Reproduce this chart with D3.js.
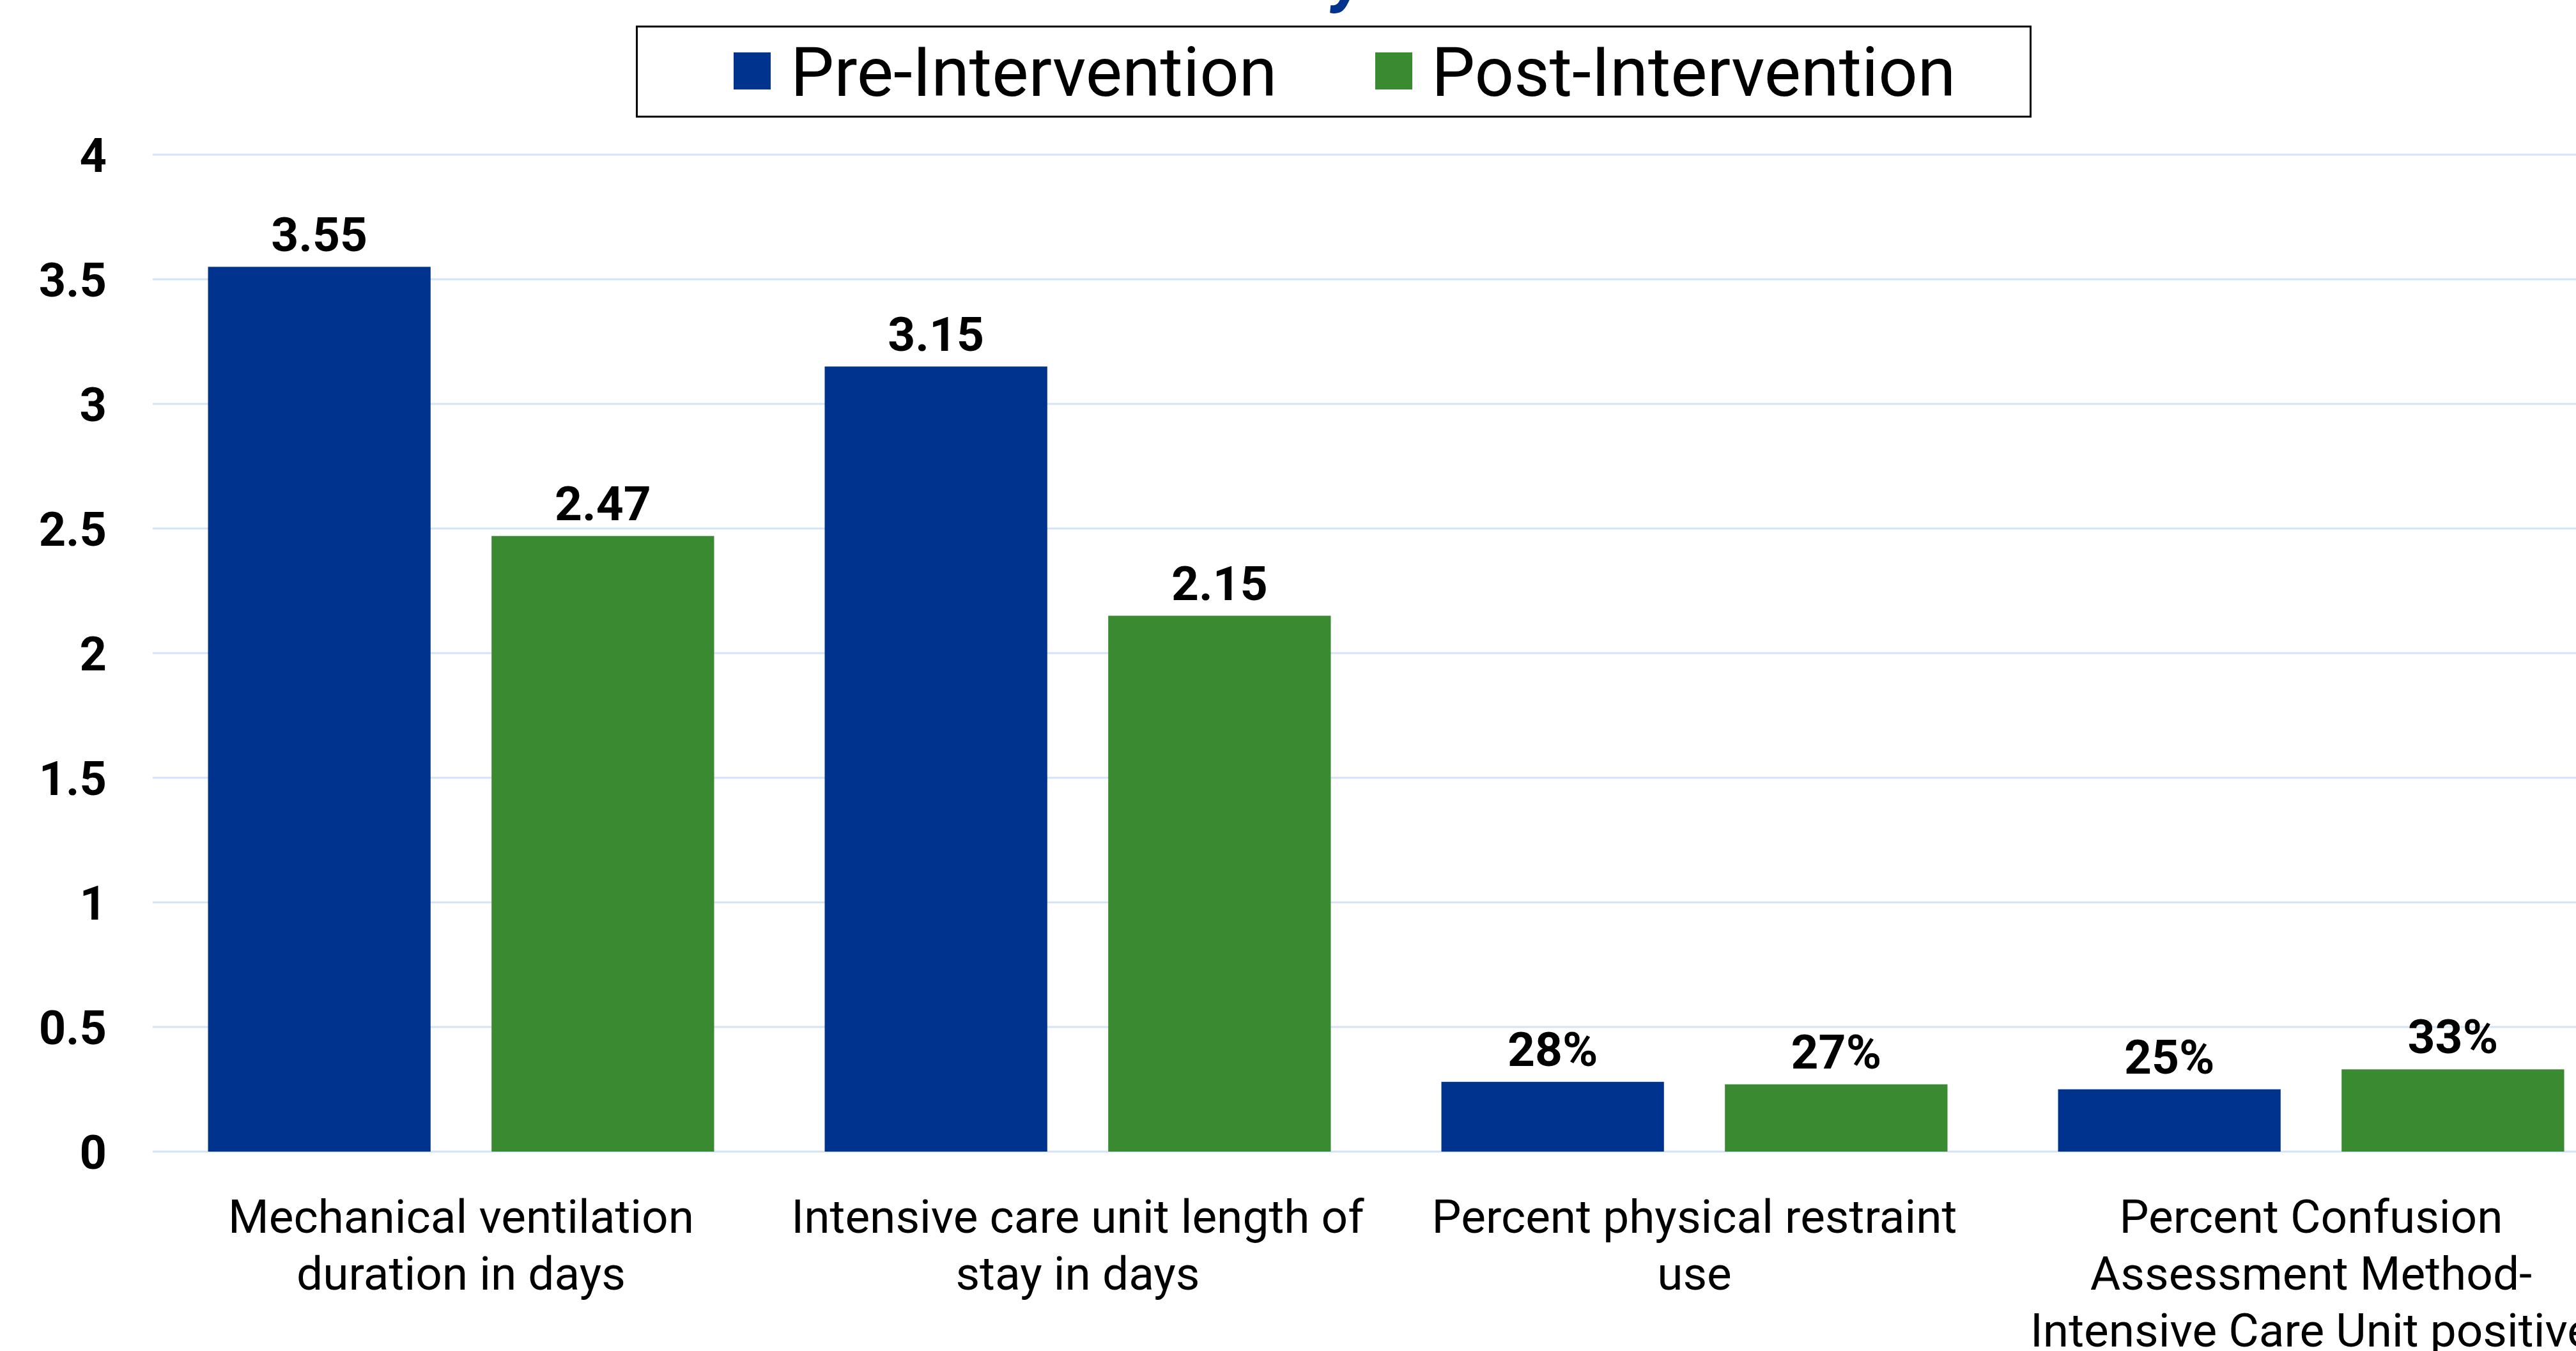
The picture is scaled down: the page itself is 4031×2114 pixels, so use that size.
<!DOCTYPE html>
<html>
<head>
<meta charset="utf-8">
<script src="https://cdn.jsdelivr.net/npm/d3@7"></script>
<style>
  html, body { margin: 0; padding: 0; background: #ffffff; overflow: hidden; }
  svg { display: block; font-family: Roboto, "Noto Sans", sans-serif; }
</style>
</head>
<body>
<svg id="chart" width="4031" height="2114"></svg>
<script>
// ---------- data ----------
const categories = [
  "Mechanical ventilation duration in days",
  "Intensive care unit length of stay in days",
  "Percent physical restraint use",
  "Percent Confusion Assessment Method-Intensive Care Unit positive"
];
const categoryLines = [
  ["Mechanical ventilation", "duration in days"],
  ["Intensive care unit length of", "stay in days"],
  ["Percent physical restraint", "use"],
  ["Percent Confusion", "Assessment Method-", "Intensive Care Unit positive"]
];
const isPercent = [false, false, true, true];
const seriesNames = ["Pre-Intervention", "Post-Intervention"];
const preValues  = [3.55, 3.15, 0.28, 0.25];
const postValues = [2.47, 2.15, 0.27, 0.33];
const yTicks = [0, 0.5, 1, 1.5, 2, 2.5, 3, 3.5, 4];
const yTickLabels = ["0", "0.5", "1", "1.5", "2", "2.5", "3", "3.5", "4"];
const colors = ["#00338d", "#3a8a32"];

// ---------- layout ----------
const svg = d3.select("#chart");
const plotLeft = 239, bandStep = 965;
const yTop = 242, yBottom = 1802;

const x0 = d3.scaleBand().domain(categories)
  .range([plotLeft, plotLeft + bandStep * categories.length]).padding(0);
const x1 = d3.scaleBand().domain(seriesNames)
  .range([0, x0.bandwidth()]).paddingInner(0.215).paddingOuter(0.195);
const y = d3.scaleLinear().domain([0, 4]).range([yBottom, yTop]);

// title fragment (cut off at top of picture)
svg.append("text")
  .attr("x", 2084).attr("y", -3)
  .attr("fill", "#00338d")
  .attr("font-size", 112).attr("font-weight", 700).attr("font-style", "italic")
  .text("y");

// gridlines
svg.append("g").selectAll("line").data(yTicks).join("line")
  .attr("x1", plotLeft).attr("x2", 4031)
  .attr("y1", d => y(d)).attr("y2", d => y(d))
  .attr("stroke", "#d5e3f7").attr("stroke-width", 3);

// y axis labels
const yAxis = d3.axisLeft(y).tickValues(yTicks)
  .tickFormat((d, i) => yTickLabels[i]).tickSize(0).tickPadding(0);
const yg = svg.append("g").attr("transform", "translate(167,0)").call(yAxis);
yg.select(".domain").remove();
yg.selectAll("text")
  .attr("font-family", "Roboto, sans-serif")
  .attr("font-size", 74).attr("font-weight", 700).attr("fill", "#000")
  .attr("dy", "0.36em");

// bars
const groups = svg.append("g").selectAll("g").data(categories).join("g")
  .attr("transform", d => `translate(${x0(d)},0)`);

const barData = (c, i) => seriesNames.map((s, j) => ({
  s, j, i, v: j === 0 ? preValues[i] : postValues[i]
}));

groups.selectAll("rect").data(barData).join("rect")
  .attr("x", d => x1(d.s))
  .attr("width", x1.bandwidth())
  .attr("y", d => y(d.v))
  .attr("height", d => y(0) - y(d.v))
  .attr("fill", d => colors[d.j]);

const fmtNum = d3.format(".2f"), fmtPct = d3.format(".0%");
groups.selectAll("text.val").data(barData).join("text")
  .attr("class", "val")
  .attr("x", d => x1(d.s) + x1.bandwidth() / 2)
  .attr("y", d => y(d.v) - 25)
  .attr("text-anchor", "middle")
  .attr("font-size", 75).attr("font-weight", 700).attr("fill", "#000")
  .text(d => isPercent[d.i] ? fmtPct(d.v) : fmtNum(d.v));

// category labels
groups.each(function (c, i) {
  const t = d3.select(this).append("text")
    .attr("text-anchor", "middle")
    .attr("font-size", 73).attr("fill", "#000");
  categoryLines[i].forEach((line, k) => {
    t.append("tspan")
      .attr("x", x0.bandwidth() / 2)
      .attr("y", 1929 + k * 89)
      .text(line);
  });
});

// legend
const legend = svg.append("g");
legend.append("rect")
  .attr("x", 996.5).attr("y", 41.5).attr("width", 2181).attr("height", 141)
  .attr("fill", "#fff").attr("stroke", "#000").attr("stroke-width", 3);
const legendX = [1148, 2152];
const legendTextX = [1237, 2240];
seriesNames.forEach((s, j) => {
  legend.append("rect")
    .attr("x", legendX[j]).attr("y", 82).attr("width", 58).attr("height", 58)
    .attr("fill", colors[j]);
  legend.append("text")
    .attr("x", legendTextX[j]).attr("y", 150)
    .attr("font-size", 108).attr("fill", "#000")
    .text(s);
});
</script>
</body>
</html>
